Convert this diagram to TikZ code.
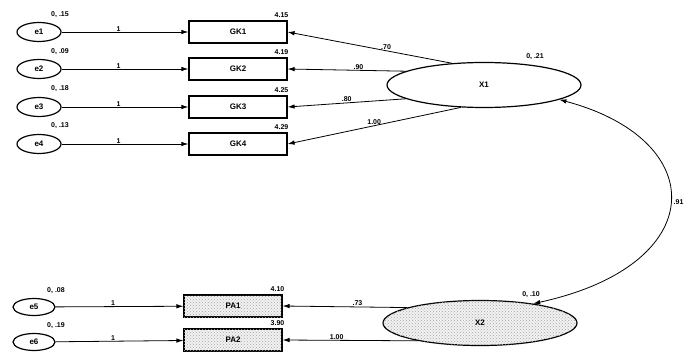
\documentclass[tikz,border=0pt]{standalone}
\usepackage{fontspec}
\setmainfont{Liberation Sans}
\usetikzlibrary{arrows.meta,patterns,shapes.geometric}
\begin{document}
\begin{tikzpicture}[x=1pt,y=-1pt,
  lbl/.style={font=\fontsize{7}{8}\selectfont\bfseries, inner sep=0.5pt},
  errv/.style={draw, very thick, ellipse, minimum width=44pt, minimum height=19pt, inner sep=0pt, font=\fontsize{8}{9}\selectfont\bfseries},
  obsbox/.style={draw, very thick, minimum width=98pt, minimum height=22pt, inner sep=0pt, font=\fontsize{8}{9}\selectfont\bfseries},
  shaded/.style={fill=gray!10, postaction={pattern=crosshatch dots, pattern color=gray!70}},
  latv/.style={draw, very thick, ellipse, minimum width=194pt, minimum height=45pt, inner sep=0pt, font=\fontsize{8}{9}\selectfont\bfseries},
  ldarrow/.style={draw, thick, -{Latex[length=7pt,width=4.5pt]}},
  cov/.style={draw, thick, {Latex[length=7pt,width=4.5pt]}-{Latex[length=7pt,width=4.5pt]}}
]
\useasboundingbox (0,0) rectangle (687,358);
% top block
\node[errv] (e1) at (39,32) {e1};
\node[errv] (e2) at (39,69) {e2};
\node[errv] (e3) at (39,107) {e3};
\node[errv] (e4) at (39,144) {e4};
\node[obsbox] (gk1) at (238,32) {GK1};
\node[obsbox] (gk2) at (238,69) {GK2};
\node[obsbox] (gk3) at (238,107) {GK3};
\node[obsbox] (gk4) at (238,144) {GK4};
\node[latv] (x1) at (484,85) {X1};
% bottom block
\node[errv, minimum width=42pt, minimum height=17pt] (e5) at (34,307) {e5};
\node[errv, minimum width=42pt, minimum height=17pt] (e6) at (34,342) {e6};
\node[obsbox, shaded] (pa1) at (233,306) {PA1};
\node[obsbox, shaded] (pa2) at (233,340) {PA2};
\node[latv, shaded] (x2) at (480,323) {X2};
% error paths
\foreach \e/\g in {e1/gk1,e2/gk2,e3/gk3,e4/gk4,e5/pa1,e6/pa2}{
  \path[ldarrow] (\e) -- node[lbl, above, pos=0.45] {1} (\g);
}
% loadings
\path[ldarrow] (x1.146) -- node[lbl, above, pos=0.4] {.70} (gk1.east);
\path[ldarrow] (x1.170) -- node[lbl, above, pos=0.4] {.90} (gk2.east);
\path[ldarrow] (x1.190) -- node[lbl, above, pos=0.5] {.80} (gk3.east);
\path[ldarrow] (x1.224) -- node[lbl, above, pos=0.5] {1.00} (gk4.east);
\path[ldarrow] (x2.168) -- node[lbl, above, pos=0.4] {.73} (pa1.east);
\path[ldarrow] (x2.196) -- node[lbl, above, pos=0.6] {1.00} (pa2.east);
% covariance
\path[cov] (x1.349) .. controls (711,140) and (711,265) .. node[lbl, right, pos=0.5, xshift=3pt] {.91} (x2.20);
% variance / intercept labels
\node[lbl] (v1) at (60,15) {0, .15};
\node[lbl] (v2) at (60,52) {0, .09};
\node[lbl] (v3) at (60,89) {0, .18};
\node[lbl] (v4) at (60,126) {0, .13};
\node[lbl] (v5) at (56,291) {0, .08};
\node[lbl] (v6) at (56,326) {0, .19};
\node[lbl, anchor=east] (m1) at (289,15) {4.15};
\node[lbl, anchor=east] (m2) at (289,52) {4.19};
\node[lbl, anchor=east] (m3) at (289,90) {4.25};
\node[lbl, anchor=east] (m4) at (289,127) {4.29};
\node[lbl, anchor=east] (m5) at (285,289) {4.10};
\node[lbl, anchor=east] (m6) at (285,323) {3.90};
\node[lbl] (vx1) at (535,57) {0, .21};
\node[lbl] (vx2) at (531,295) {0, .10};
\end{tikzpicture}
\end{document}
